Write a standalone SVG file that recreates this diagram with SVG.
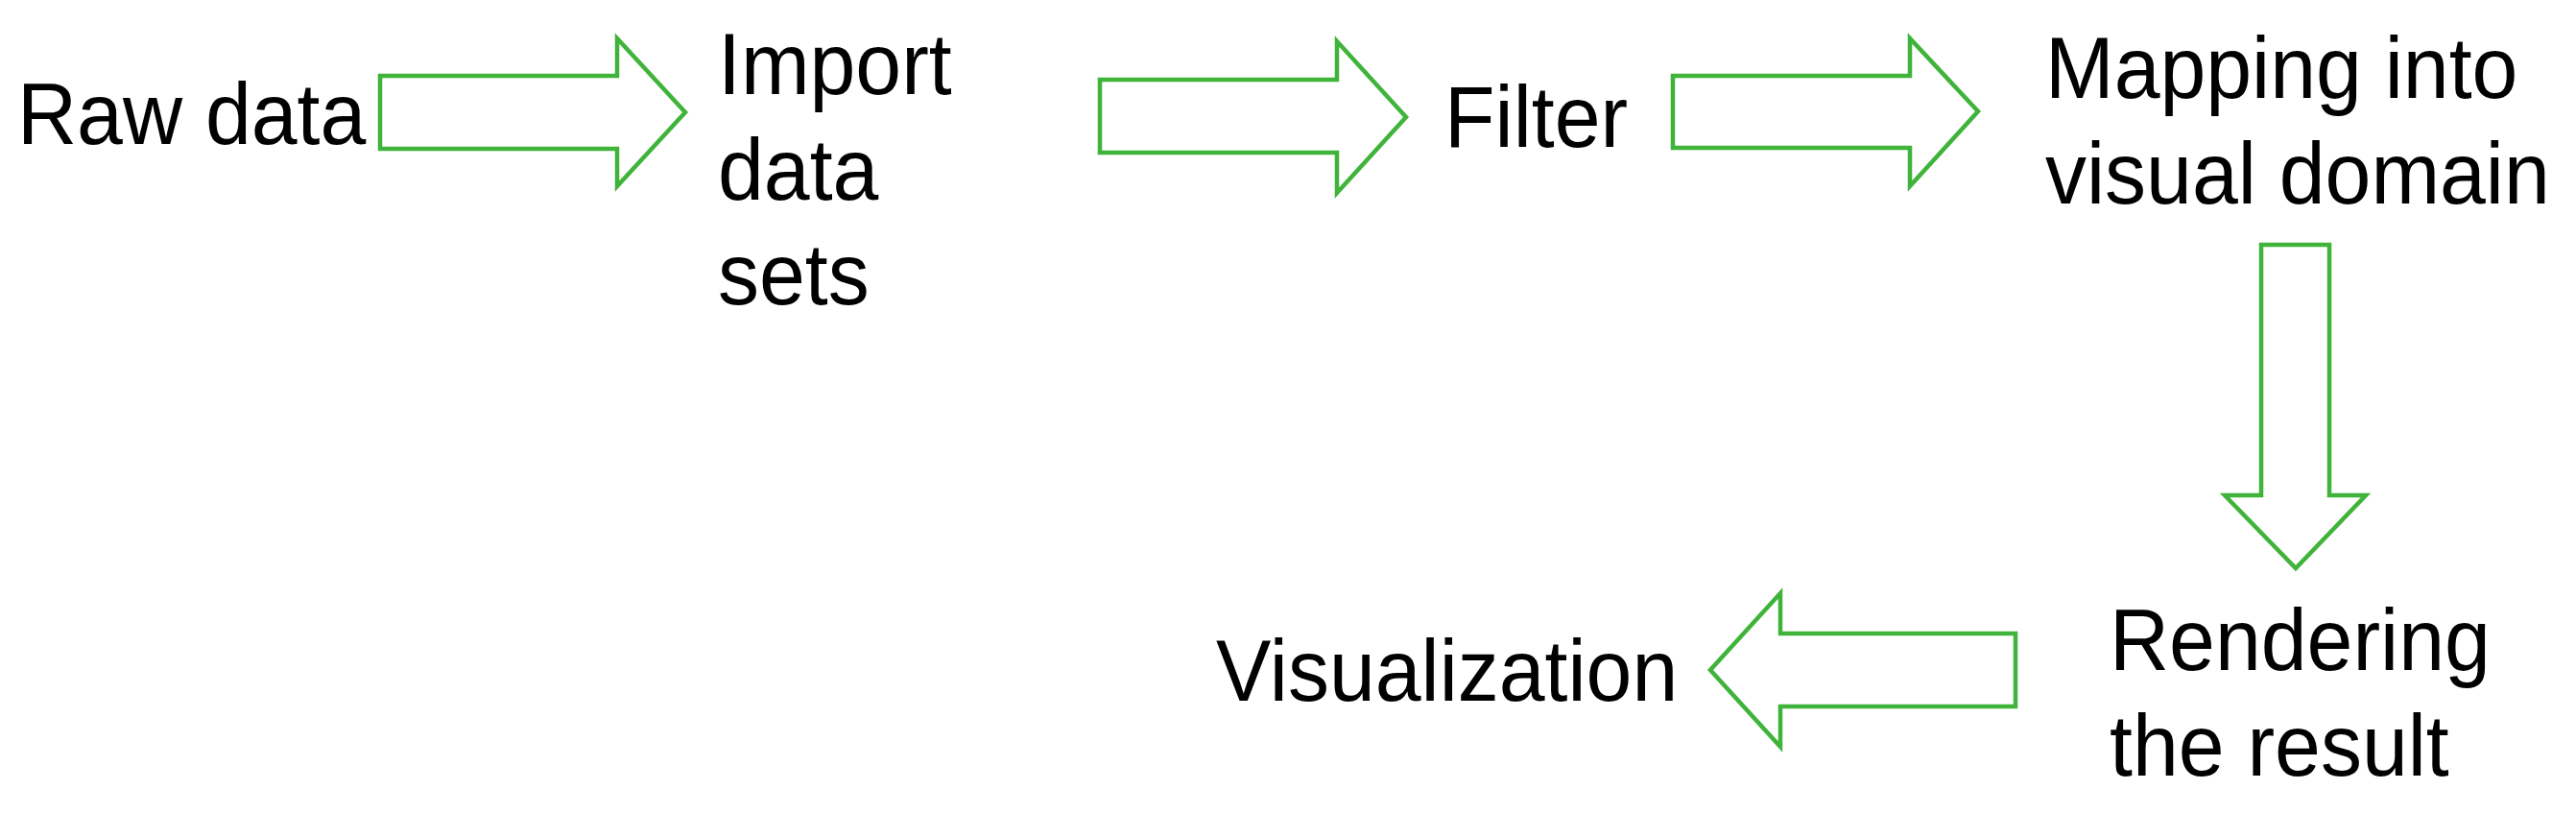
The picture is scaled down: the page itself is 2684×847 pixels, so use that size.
<svg xmlns="http://www.w3.org/2000/svg" width="2684" height="847" viewBox="0 0 2684 847">
<style>
.t{font-family:"Liberation Sans",Arial,sans-serif;font-size:86px;fill:#000}
.a{fill:#fff;stroke:#3fb33a;stroke-width:4.5;stroke-linejoin:miter}
</style>
<rect width="2684" height="847" fill="#fff"/>
<g id="connectors">
<polygon class="a" points="396,79 643,79 643,40 714,117 643,194 643,155 396,155"/>
<polygon class="a" points="1146,83 1393,83 1393,43 1465,122 1393,201 1393,159 1146,159"/>
<polygon class="a" points="1743,79 1990,79 1990,40 2061,116 1990,194 1990,154 1743,154"/>
<polygon class="a" points="2356,255 2427,255 2427,516 2465,516 2392,592 2318,516 2356,516"/>
<polygon class="a" points="2100,660 1855,660 1855,618 1782,698 1855,778 1855,736 2100,736"/>
</g>
<g id="raw"><text class="t" transform="translate(18,150) scale(1,1.06)">Raw data</text></g>
<g id="import"><text class="t" transform="translate(748,98) scale(1,1.06)">Import</text><text class="t" transform="translate(748,208) scale(1,1.06)">data</text><text class="t" transform="translate(748,317) scale(1,1.06)">sets</text></g>
<g id="filter"><text class="t" transform="translate(1505,153) scale(1,1.06)">Filter</text></g>
<g id="mapping"><text class="t" transform="translate(2131,102) scale(1,1.06)">Mapping into</text><text class="t" transform="translate(2131,212) scale(1,1.06)">visual domain</text></g>
<g id="rendering"><text class="t" transform="translate(2198,698) scale(1,1.06)">Rendering</text><text class="t" transform="translate(2198,808) scale(1,1.06)">the result</text></g>
<g id="visualization"><text class="t" transform="translate(1267,730) scale(1,1.06)">Visualization</text></g>
</svg>
